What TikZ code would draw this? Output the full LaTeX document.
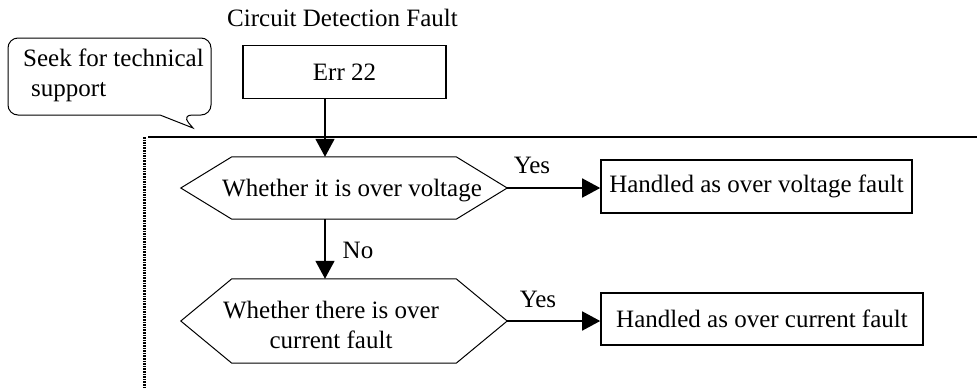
\documentclass[tikz,border=0pt]{standalone}
\usepackage{fontspec}
\setmainfont{Liberation Serif}
\usetikzlibrary{arrows.meta}
\begin{document}
\begin{tikzpicture}[x=1pt,y=-1pt,
  every node/.style={font=\fontsize{25}{30}\selectfont, inner sep=0pt},
  box/.style={draw, line width=1.6pt, rectangle},
  hexbox/.style={rectangle, minimum width=326pt, minimum height=#1},
  hexline/.style={line width=1pt, line join=miter},
  arr/.style={line width=1.6pt, -{Triangle[length=18pt,width=19pt]}},
  calloutline/.style={line width=1pt}]
\useasboundingbox (0,0) rectangle (977,389);
% frame fragments
\draw[line width=2.2pt] (148,137) -- (977,137);
\draw[line width=3pt, dash pattern=on 1.6pt off 1pt] (144,137) -- (144,389);
% callout
\draw[calloutline] (160,115) [rounded corners=10pt] -- (8,115) -- (8,38) -- (211,38) -- (211,115) -- (182,115) [sharp corners] -- (193,128) -- cycle;
\node[anchor=north west, align=left] (c) at (23,49) {Seek for technical\\\hspace*{8pt}support};
% title and start box
\node[anchor=base] (t) at (342.5,26) {Circuit Detection Fault};
\node[box, minimum width=203pt, minimum height=53pt] (e) at (344.5,72) {Err 22};
\coordinate (ax) at (325,0);
% decision 1
\node[hexbox=62pt] (h1) at (344,188) {};
\draw[hexline] (h1.west) -- ([xshift=51pt]h1.north west) -- ([xshift=-51pt]h1.north east) -- (h1.east) -- ([xshift=-51pt]h1.south east) -- ([xshift=51pt]h1.south west) -- cycle;
\node[anchor=base] (h1t) at (352,196) {Whether it is over voltage};
% decision 2
\node[hexbox=84pt] (h2) at (344,321) {};
\draw[hexline] (h2.west) -- ([xshift=51pt]h2.north west) -- ([xshift=-51pt]h2.north east) -- (h2.east) -- ([xshift=-51pt]h2.south east) -- ([xshift=51pt]h2.south west) -- cycle;
\node[anchor=north, align=center] (h2t) at (331,301) {Whether there is over\\current fault};
% result boxes
\node[box, minimum width=311pt, minimum height=53pt] (b1) at (756.5,186.5) {Handled as over voltage fault};
\node[box, minimum width=322pt, minimum height=52pt] (b2) at (762,319) {Handled as over current fault};
% connectors
\draw[arr] (e.south -| ax) -- (h1.north -| ax);
\draw[arr] (h1.south -| ax) -- (h2.north -| ax);
\draw[arr] (h1.east) -- (h1.east -| b1.west);
\draw[arr] (h2.east) -- (h2.east -| b2.west);
% labels
\node[anchor=base] (y1) at (532,173) {Yes};
\node[anchor=base] (y2) at (538,307) {Yes};
\node[anchor=base] (no) at (358,258) {No};
\end{tikzpicture}
\end{document}
